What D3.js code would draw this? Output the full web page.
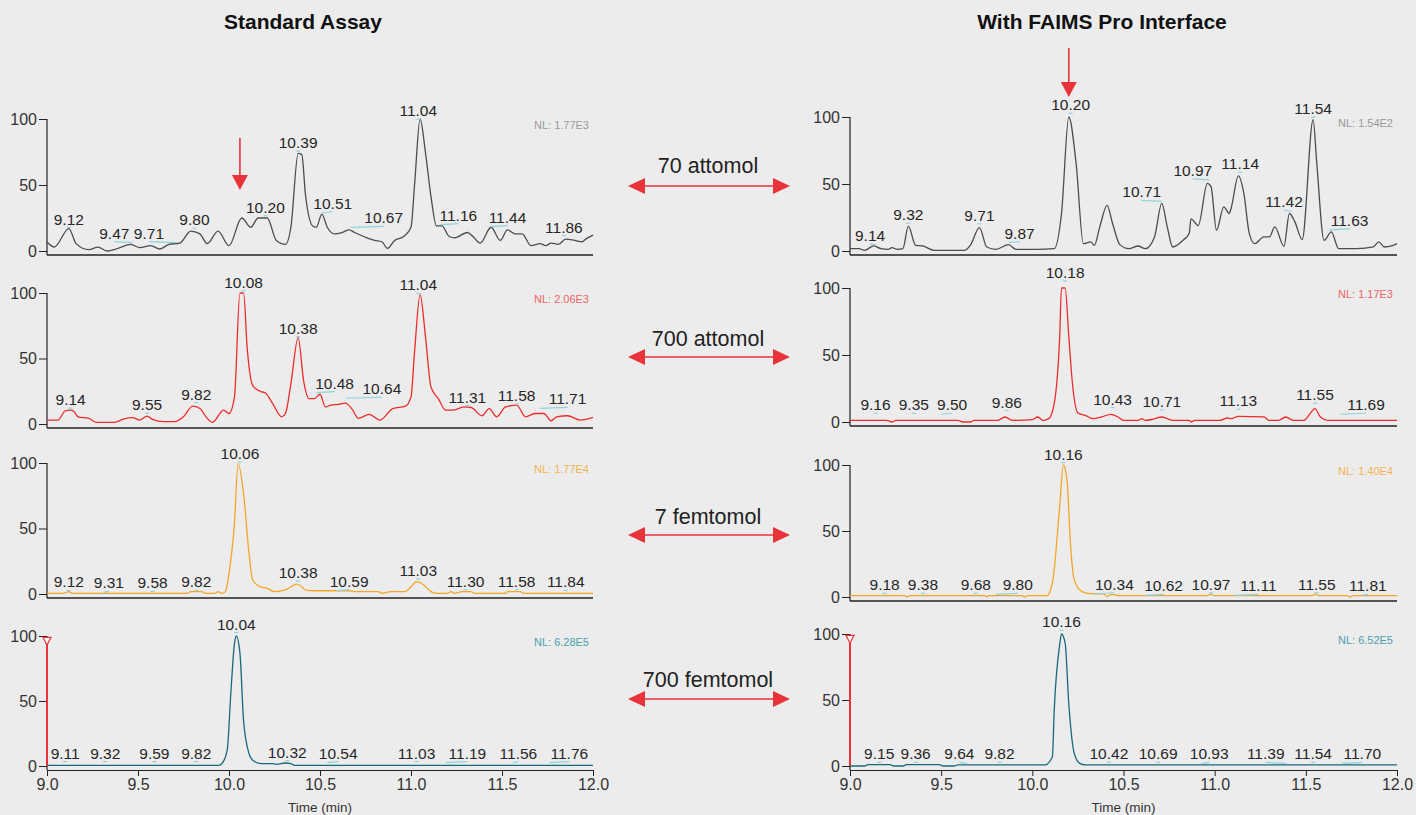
<!DOCTYPE html>
<html>
<head>
<meta charset="utf-8">
<script src="https://cdn.jsdelivr.net/npm/d3@7"></script>
<style>
  body { margin: 0; background: #ececec; }
  svg { display: block; font-family: "Liberation Sans", Arial, sans-serif; }
</style>
</head>
<body>
<svg id="chart" width="1416" height="815"></svg>
<script>
// ---- data ----
const columnTitles = ["Standard Assay", "With FAIMS Pro Interface"];
const amounts = ["70 attomol", "700 attomol", "7 femtomol", "700 femtomol"];
const timeTicks = [9.0, 9.5, 10.0, 10.5, 11.0, 11.5, 12.0];
const intensityTicks = [0, 50, 100];
const nlStandard = ["NL: 1.77E3", "NL: 2.06E3", "NL: 1.77E4", "NL: 6.28E5"];
const nlFaims = ["NL: 1.54E2", "NL: 1.17E3", "NL: 1.40E4", "NL: 6.52E5"];
// times where the red "target" arrows point
const targetStd = 10.06;
const targetFaims = 10.20;

// traces: [time (min), relative abundance]
const traceStd70 = [[9.0,6.8],[9.04,3],[9.12,17],[9.16,5.6],[9.23,1],[9.28,3],[9.33,0],[9.39,2],[9.46,5],[9.51,2.5],[9.57,4],[9.62,1.5],[9.67,5],[9.73,6],[9.79,15],[9.84,13],[9.88,5.6],[9.94,15],[10.0,4],[10.07,25],[10.12,18],[10.16,25],[10.21,25],[10.26,8],[10.31,5],[10.34,18],[10.38,74],[10.40,73],[10.42,43],[10.46,19],[10.48,18],[10.51,28],[10.54,18],[10.58,13],[10.62,14],[10.66,16],[10.69,14],[10.74,11],[10.80,8],[10.84,7],[10.87,2],[10.91,8],[10.96,11],[11.0,18],[11.02,51],[11.05,100],[11.08,74],[11.11,41],[11.14,19],[11.17,19],[11.21,11],[11.24,10],[11.31,14],[11.34,11],[11.38,6],[11.44,18],[11.49,8],[11.53,16],[11.57,13],[11.61,13],[11.66,4],[11.71,5.6],[11.74,4],[11.77,6],[11.81,5],[11.85,9],[11.90,8],[11.94,7],[11.96,9],[12.0,12]];
const traceFaims70 = [[9.0,1.75],[9.05,1.75],[9.08,0.5],[9.13,3.75],[9.17,1.75],[9.21,1.25],[9.23,2.5],[9.26,1.25],[9.29,1.75],[9.32,18.5],[9.36,4.25],[9.40,3.75],[9.46,0.5],[9.63,0.5],[9.66,4.25],[9.71,17.5],[9.75,3],[9.80,1.25],[9.87,4.75],[9.91,1.25],[10.02,1.25],[10.12,1.75],[10.16,28],[10.20,100],[10.24,65.5],[10.28,5.5],[10.32,6.75],[10.34,4.25],[10.37,18],[10.41,34],[10.44,20.5],[10.48,4.75],[10.53,1.75],[10.58,3.75],[10.62,1.75],[10.67,10.5],[10.71,35.5],[10.74,18],[10.77,3],[10.83,8.5],[10.86,13],[10.87,24],[10.91,19],[10.96,50.5],[10.98,48],[11.01,15.5],[11.05,33],[11.08,28],[11.09,31.75],[11.13,56],[11.16,43],[11.19,13],[11.22,5.5],[11.27,10.5],[11.30,10.5],[11.33,18],[11.38,3.5],[11.41,28],[11.44,21.75],[11.48,8.5],[11.54,98],[11.56,65.5],[11.60,8],[11.64,14.25],[11.68,1.75],[11.78,1.75],[11.87,3],[11.90,6.75],[11.93,3],[11.97,3.75],[12.0,5.5]];
const traceStd700 = [[9.0,3],[9.06,3],[9.10,10],[9.13,10.6],[9.15,9.3],[9.17,5.5],[9.23,4.3],[9.27,1.3],[9.37,1.3],[9.42,3.8],[9.47,4.8],[9.51,3],[9.55,6],[9.58,3.5],[9.64,1.8],[9.70,1.8],[9.75,5.5],[9.80,13.6],[9.84,11.8],[9.88,4.3],[9.91,1.3],[9.97,10.6],[10.0,8],[10.03,20.7],[10.06,100],[10.08,100],[10.10,58],[10.13,29.5],[10.17,25],[10.20,23.7],[10.24,15.6],[10.29,5.5],[10.31,8],[10.34,30.7],[10.38,66],[10.41,33],[10.44,19.4],[10.47,19.4],[10.50,22.7],[10.53,13],[10.56,14.4],[10.60,15],[10.64,16],[10.68,10.6],[10.71,4.3],[10.77,7.3],[10.83,3],[10.90,11.8],[10.97,13.6],[11.0,20.7],[11.02,56],[11.05,98.7],[11.08,66],[11.11,28],[11.15,19.4],[11.19,10.6],[11.23,10.6],[11.29,13],[11.33,12.6],[11.39,6.3],[11.43,11.8],[11.47,5.5],[11.52,13],[11.58,14.4],[11.63,5.5],[11.68,8],[11.73,8],[11.77,2.5],[11.80,5.5],[11.86,6.3],[11.93,3],[12.0,5]];
const traceFaims700 = [[9.0,1.25],[9.20,1.25],[9.23,0],[9.25,1.25],[9.59,1.25],[9.62,0],[9.66,0],[9.68,1.25],[9.81,1.25],[9.85,3.75],[9.89,1.25],[10.0,1.75],[10.03,3.75],[10.06,1.25],[10.09,2.5],[10.12,13.75],[10.15,63.75],[10.16,100],[10.18,100],[10.20,63.75],[10.22,28.75],[10.25,6.75],[10.29,5],[10.33,2.5],[10.38,3.75],[10.43,5.75],[10.47,3.75],[10.50,1.25],[10.58,1.25],[10.60,2.5],[10.62,1.25],[10.66,2],[10.71,3.75],[10.74,2.5],[10.77,1.25],[10.86,1.25],[10.87,0],[10.89,1.25],[11.03,1.25],[11.07,3],[11.09,2.5],[11.13,4.25],[11.27,3.75],[11.30,1.25],[11.35,1.25],[11.39,3.75],[11.43,1.25],[11.49,1.25],[11.53,7.5],[11.55,10],[11.58,3.75],[11.62,1.25],[12.0,1.25]];
const traceStd7f = [[9.0,0.5],[9.09,0.5],[9.12,1.8],[9.14,0.5],[9.77,0.5],[9.79,1.8],[9.85,1.8],[9.87,0.5],[9.92,0.5],[9.94,1.8],[9.96,0.5],[9.98,1.8],[10.0,15.7],[10.03,54],[10.05,99.5],[10.08,76.6],[10.11,31],[10.13,10.7],[10.17,5.6],[10.21,4.3],[10.25,1.8],[10.29,2.5],[10.32,3.8],[10.37,7.6],[10.40,5.6],[10.42,3],[10.47,2.5],[10.66,2.5],[10.69,1.8],[10.82,1.8],[10.84,0.5],[10.89,1.8],[10.97,1.8],[11.0,5.6],[11.03,9.4],[11.07,6.9],[11.11,1.8],[11.14,0.5],[11.20,0.5],[11.22,1.8],[11.24,0.5],[11.28,1.8],[11.33,1.8],[11.35,0.5],[11.52,0.5],[11.53,1.8],[11.60,1.8],[11.62,0.5],[12.0,0.5]];
const traceFaims7f = [[9.0,1],[9.30,1],[9.31,0],[9.33,1],[9.74,1],[9.75,0],[9.76,1],[9.94,1],[9.96,0],[9.97,1],[10.08,1],[10.11,10.6],[10.15,68.5],[10.17,100],[10.19,88.7],[10.21,38.3],[10.23,13],[10.27,4.3],[10.32,2.5],[10.39,2.3],[10.41,0.5],[10.43,1.8],[10.45,1.8],[10.47,1],[10.95,1],[10.98,2],[11.0,1],[11.54,1],[11.55,2.3],[11.57,1],[11.73,1],[11.74,0],[11.76,1],[12.0,1]];
const traceStd700f = [[9.0,0.5],[9.94,0.5],[9.96,1.8],[9.99,12],[10.01,56],[10.03,94],[10.04,100],[10.06,87],[10.08,35],[10.11,9.5],[10.13,4.4],[10.18,1.8],[10.24,1.8],[10.26,1.3],[10.31,2.3],[10.34,1.8],[10.36,0.5],[12.0,0.5]];
const traceFaims700f = [[9.0,0],[9.08,0],[9.10,1],[9.22,1],[9.24,0],[9.29,0],[9.31,1],[9.49,1],[9.51,0],[9.57,0],[9.59,0.8],[10.07,0.8],[10.11,7],[10.12,42],[10.15,92],[10.16,100],[10.18,93],[10.20,47],[10.23,9.5],[10.26,2],[10.29,0.8],[12.0,0.8]];

// peak labels: [text, label centre (min), label baseline (relative abundance)]
const labelsStd70 = [["9.12",9.12,20],["9.47",9.37,9.4],["9.71",9.56,9.4],["9.80",9.81,19.5],["10.20",10.20,29],["10.39",10.38,78],["10.51",10.57,32],["10.67",10.85,21],["11.04",11.04,102],["11.16",11.26,23],["11.44",11.53,21.5],["11.86",11.84,14]];
const labelsFaims70 = [["9.14",9.11,7.5],["9.32",9.32,23],["9.71",9.71,22.5],["9.87",9.93,9.25],["10.20",10.21,105],["10.71",10.60,40],["10.97",10.88,56],["11.14",11.14,61],["11.42",11.38,32.5],["11.54",11.54,102],["11.63",11.74,18.75]];
const labelsStd700 = [["9.14",9.13,14.4],["9.55",9.55,10.6],["9.82",9.82,18.6],["10.08",10.08,104],["10.38",10.38,69],["10.48",10.58,27],["10.64",10.84,22.7],["11.04",11.04,102],["11.31",11.31,16.4],["11.58",11.58,17.6],["11.71",11.86,15]];
const labelsFaims700 = [["9.16",9.14,8.75],["9.35",9.35,8.75],["9.50",9.56,8.75],["9.86",9.86,10.75],["10.18",10.18,107.5],["10.43",10.44,13],["10.71",10.71,11.25],["11.13",11.13,11.75],["11.55",11.55,16.25],["11.69",11.83,8.75]];
const labelsStd7f = [["9.12",9.12,5],["9.31",9.34,4.3],["9.58",9.58,4.3],["9.82",9.82,5],["10.06",10.06,103],["10.38",10.38,12],["10.59",10.66,5.6],["11.03",11.04,13.7],["11.30",11.30,5.6],["11.58",11.58,5.6],["11.84",11.85,5]];
const labelsFaims7f = [["9.18",9.19,5],["9.38",9.40,5],["9.68",9.69,5],["9.80",9.92,5],["10.16",10.17,104],["10.34",10.45,5.5],["10.62",10.72,4.3],["10.97",10.98,5.5],["11.11",11.24,4.3],["11.55",11.56,5.5],["11.81",11.84,4.3]];
const labelsStd700f = [["9.11",9.10,5.7],["9.32",9.32,5.7],["9.59",9.59,5.7],["9.82",9.82,5.7],["10.04",10.04,105],["10.32",10.32,6.4],["10.54",10.60,5.7],["11.03",11.03,5.7],["11.19",11.31,5.7],["11.56",11.59,5.7],["11.76",11.87,5.7]];
const labelsFaims700f = [["9.15",9.16,5],["9.36",9.36,5],["9.64",9.60,5],["9.82",9.82,5],["10.16",10.16,105],["10.42",10.42,5],["10.69",10.69,5],["10.93",10.97,5],["11.39",11.28,5],["11.54",11.54,5],["11.70",11.81,5]];

const tracesStd = [traceStd70, traceStd700, traceStd7f, traceStd700f];
const tracesFaims = [traceFaims70, traceFaims700, traceFaims7f, traceFaims700f];
const labelsStd = [labelsStd70, labelsStd700, labelsStd7f, labelsStd700f];
const labelsFaims = [labelsFaims70, labelsFaims700, labelsFaims7f, labelsFaims700f];

// ---- layout ----
const rowColors = ["#4d4d4d", "#ee2b2b", "#f3a52a", "#17697b"];
const nlColors = ["#9a9a9a", "#f06464", "#f2b450", "#4a9fb0"];
const arrowRed = "#e8333a";
const columns = [
    { x0: 47, x1: 593, top: [119, 293, 463, 636], bottom: [251, 424, 594, 766], titleX: 303 },
    { x0: 850, x1: 1397, top: [117, 288, 465, 634], bottom: [251, 422, 597, 766], titleX: 1102 }
];
const middleRows = [{ text: 173, arrow: 186 }, { text: 346, arrow: 357 }, { text: 524, arrow: 535 }, { text: 687, arrow: 699 }];

const svg = d3.select('#chart');

// column titles
columns.forEach((col, c) => {
    svg.append('text')
        .attr('x', col.titleX)
        .attr('y', 29)
        .attr('text-anchor', 'middle')
        .style('font-size', '21px')
        .style('font-weight', 'bold')
        .style('fill', '#111')
        .text(columnTitles[c]);
});

const line = d3.line().curve(d3.curveMonotoneX);

function drawPanel(col, row, trace, labels, nl) {
    const x = d3.scaleLinear().domain([9, 12]).range([col.x0, col.x1]);
    const y = d3.scaleLinear().domain([0, 100]).range([col.bottom[row], col.top[row]]);
    const g = svg.append('g');
    const base = col.bottom[row] + 4;

    // y axis
    const yAxis = g.append('g')
        .attr('transform', `translate(${col.x0}, 0)`)
        .call(d3.axisLeft(y).tickValues(intensityTicks).tickSize(8).tickPadding(2).tickSizeOuter(0));
    yAxis.select('.domain').remove();
    yAxis.selectAll('line').attr('stroke', '#222');
    yAxis.selectAll('text').style('font-size', '16px').style('fill', '#333')
        .style('font-family', '"Liberation Sans", Arial, sans-serif');
    g.append('line')
        .attr('x1', col.x0).attr('x2', col.x0)
        .attr('y1', y(100)).attr('y2', base)
        .attr('stroke', '#222').attr('stroke-width', 1.2);

    // x axis
    if (row === 3) {
        const xAxis = g.append('g')
            .attr('transform', `translate(0, ${base})`)
            .call(d3.axisBottom(x).tickValues(timeTicks).tickFormat(d3.format('.1f')).tickSize(6).tickSizeOuter(0));
        xAxis.select('.domain').attr('stroke', '#222').attr('stroke-width', 1.2);
        xAxis.selectAll('line').attr('stroke', '#222');
        xAxis.selectAll('text').style('font-size', '16px').style('fill', '#333')
            .style('font-family', '"Liberation Sans", Arial, sans-serif');
        g.append('text')
            .attr('x', (col.x0 + col.x1) / 2)
            .attr('y', 812)
            .attr('text-anchor', 'middle')
            .style('font-size', '13.5px')
            .style('fill', '#333')
            .text('Time (min)');
    } else {
        g.append('line')
            .attr('x1', x(9)).attr('x2', x(12))
            .attr('y1', base).attr('y2', base)
            .attr('stroke', '#222').attr('stroke-width', 1.4);
    }

    // trace
    g.append('path')
        .datum(trace.map(d => [x(d[0]), y(d[1])]))
        .attr('d', line)
        .attr('fill', 'none')
        .attr('stroke', rowColors[row])
        .attr('stroke-width', 1.3);

    // leader marks
    labels.forEach(d => {
        const peak = +d[0];
        const ly = y(d[2]) + 3;
        const xa = x(peak), xb = x(d[1]);
        const far = Math.abs(peak - d[1]) > 0.02;
        g.append('line')
            .attr('x1', far ? xa : xb - 2).attr('x2', far ? xb : xb + 2)
            .attr('y1', ly + (far ? 1 : 0)).attr('y2', ly)
            .attr('stroke', '#8fd2de').attr('stroke-width', 1.2);
    });

    // peak labels
    g.selectAll('text.peak')
        .data(labels)
        .enter()
        .append('text')
        .attr('class', 'peak')
        .attr('x', d => x(d[1]))
        .attr('y', d => y(d[2]))
        .attr('text-anchor', 'middle')
        .style('font-size', '15.5px')
        .style('fill', '#262626')
        .text(d => d[0]);

    // normalisation level
    g.append('text')
        .attr('x', col.x1 - 4)
        .attr('y', col.top[row] + 10)
        .attr('text-anchor', 'end')
        .style('font-size', '11px')
        .style('fill', nlColors[row])
        .text(nl);

    // red marker on the 700 fmol traces
    if (row === 3) {
        g.append('line')
            .attr('x1', x(9)).attr('x2', x(9))
            .attr('y1', y(0)).attr('y2', y(95))
            .attr('stroke', arrowRed).attr('stroke-width', 2);
        g.append('path')
            .attr('d', `M${x(9) - 4},${y(99)} L${x(9) + 4},${y(99)} L${x(9)},${y(93)} Z`)
            .attr('fill', '#fff').attr('stroke', arrowRed).attr('stroke-width', 1.2);
    }
    return { x, y };
}

const panelsStd = tracesStd.map((t, r) => drawPanel(columns[0], r, t, labelsStd[r], nlStandard[r]));
const panelsFaims = tracesFaims.map((t, r) => drawPanel(columns[1], r, t, labelsFaims[r], nlFaims[r]));

// target arrows (pointing down at the peptide peak)
function downArrow(xPos, yStart, yTip) {
    svg.append('line')
        .attr('x1', xPos).attr('x2', xPos)
        .attr('y1', yStart).attr('y2', yTip - 12)
        .attr('stroke', arrowRed).attr('stroke-width', 1.6);
    svg.append('path')
        .attr('d', `M${xPos - 8},${yTip - 15} L${xPos + 8},${yTip - 15} L${xPos},${yTip} Z`)
        .attr('fill', arrowRed);
}
downArrow(panelsStd[0].x(targetStd), 138, 190);
downArrow(panelsFaims[0].x(targetFaims), 48, 97);

// amount labels with double-headed arrows
middleRows.forEach((m, i) => {
    svg.append('text')
        .attr('x', 708)
        .attr('y', m.text)
        .attr('text-anchor', 'middle')
        .style('font-size', '21.5px')
        .style('fill', '#222')
        .text(amounts[i]);
    svg.append('line')
        .attr('x1', 640).attr('x2', 776)
        .attr('y1', m.arrow).attr('y2', m.arrow)
        .attr('stroke', arrowRed).attr('stroke-width', 1.6);
    svg.append('path')
        .attr('d', `M628,${m.arrow} L645,${m.arrow - 8} L645,${m.arrow + 8} Z`)
        .attr('fill', arrowRed);
    svg.append('path')
        .attr('d', `M790,${m.arrow} L773,${m.arrow - 8} L773,${m.arrow + 8} Z`)
        .attr('fill', arrowRed);
});
</script>
</body>
</html>
